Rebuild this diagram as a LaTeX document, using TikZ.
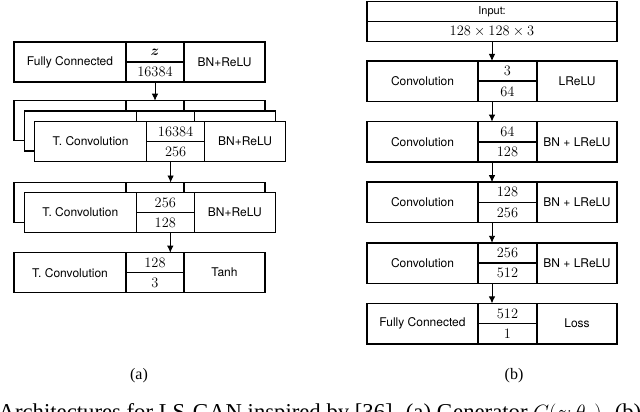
\documentclass[tikz,border=0pt]{standalone}
\usepackage[no-math]{fontspec}
\usepackage{amsmath}
\setmainfont{Liberation Serif}
\setsansfont{TeX Gyre Heros}
\usetikzlibrary{arrows.meta}
\tikzset{
  cellbox/.style={draw, line width=1.5pt, fill=white, inner sep=0pt, outer sep=0pt,
    minimum height=\rh pt, font=\sffamily\fontsize{12}{14}\selectfont},
  halfcell/.style={minimum height=\hr pt, font=\fontsize{14}{16}\selectfont},
  arr/.style={line width=0.9pt, -{Latex[length=7pt,width=6.5pt]}},
  sublabel/.style={font=\fontsize{16}{18}\selectfont, anchor=base, inner sep=0pt},
}
\newcommand\archblock[7]{%
  \node[cellbox, minimum width=\lw pt, anchor=north west] (#1-l) at (#2,#3) {#4};
  \node[cellbox, halfcell, minimum width=\mw pt, anchor=north west] (#1-t) at (#1-l.north east) {#5};
  \node[cellbox, halfcell, minimum width=\mw pt, anchor=north west] (#1-b) at (#1-t.south west) {#6};
  \node[cellbox, minimum width=\rw pt, anchor=north west] (#1-r) at (#1-t.north east) {#7};
}
\begin{document}
\begin{tikzpicture}[x=1pt, y=-1pt]
\useasboundingbox (0,0) rectangle (640,412);
\clip (0,0) rectangle (640,412);
% ---------- (a) generator ----------
\def\lw{112}\def\mw{58}\def\rw{81}\def\rh{40}\def\hr{20}
\archblock{fc}{14}{42}{Fully Connected}{$\boldsymbol{z}$}{$16384$}{BN+ReLU}
\archblock{s1a}{14}{100.7}{}{}{}{}
\archblock{s1b}{24.3}{111}{}{}{}{}
\archblock{s1c}{34.6}{121.5}{T. Convolution}{$16384$}{$256$}{BN+ReLU}
\archblock{s2a}{14}{182.5}{}{}{}{}
\archblock{s2b}{24.3}{192.5}{T. Convolution}{$256$}{$128$}{BN+ReLU}
\archblock{tc}{14}{252.7}{T. Convolution}{$128$}{$3$}{Tanh}
\draw[arr] (fc-b.south) -- (s1a-t.north);
\path ([xshift=-5pt]s1c-b.south) coordinate (k1);
\draw[arr] (k1) -- (k1 |- s2a-t.north);
\path ([xshift=5pt]s2b-b.south) coordinate (k2);
\draw[arr] (k2) -- (k2 |- tc-t.north);
% ---------- (b) discriminator ----------
\def\lw{111}\def\mw{59}\def\rw{80}\def\rh{40.5}\def\hr{20.25}
\node[cellbox, minimum width=250pt, minimum height=20pt, anchor=north west,
  font=\sffamily\fontsize{11}{13}\selectfont] (in-t) at (367,1.7) {Input:};
\node[cellbox, minimum width=250pt, minimum height=20pt, anchor=north west,
  font=\fontsize{14}{16}\selectfont] (in-b) at (in-t.south west) {$128\times128\times3$};
\archblock{c1}{367}{61}{Convolution}{$3$}{$64$}{LReLU}
\archblock{c2}{367}{121.6}{Convolution}{$64$}{$128$}{BN + LReLU}
\archblock{c3}{367}{182.2}{Convolution}{$128$}{$256$}{BN + LReLU}
\archblock{c4}{367}{242.8}{Convolution}{$256$}{$512$}{BN + LReLU}
\archblock{c5}{367}{303.4}{Fully Connected}{$512$}{$1$}{Loss}
\draw[arr] (in-b.south) -- (in-b.south |- c1-t.north);
\draw[arr] (in-b.south |- c1-b.south) -- (in-b.south |- c2-t.north);
\draw[arr] (in-b.south |- c2-b.south) -- (in-b.south |- c3-t.north);
\draw[arr] (in-b.south |- c3-b.south) -- (in-b.south |- c4-t.north);
\draw[arr] (in-b.south |- c4-b.south) -- (in-b.south |- c5-t.north);
% ---------- captions ----------
\node[sublabel] (capa) at (139,379) {(a)};
\node[sublabel] (capb) at (514,379) {(b)};
\node[font=\fontsize{22.7}{26}\selectfont, anchor=base west, inner sep=0pt] (cap) at (-1.5,419)
  {Architectures for LS-GAN inspired by [36]. (a) Generator $G(z;\theta_g)$. (b)};
\end{tikzpicture}
\end{document}
